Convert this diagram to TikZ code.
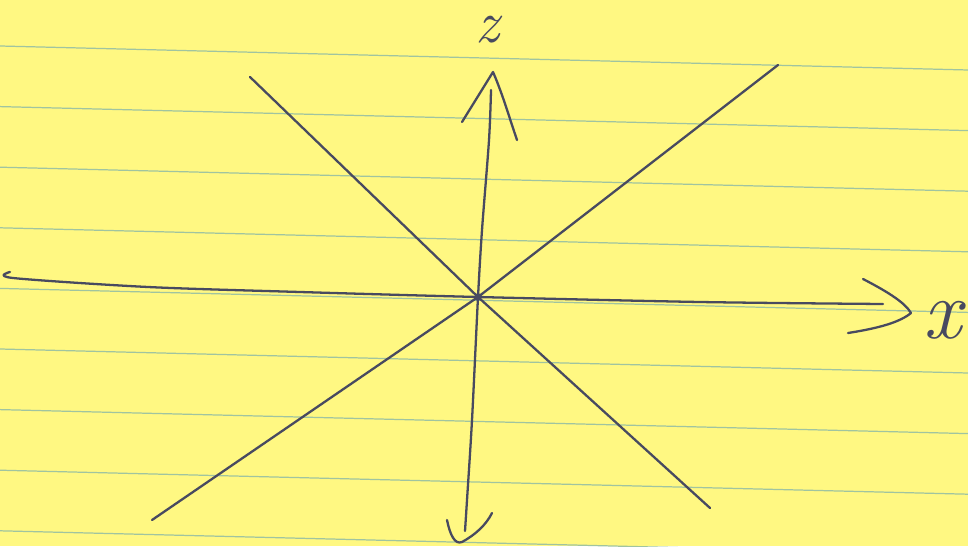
\documentclass[tikz,border=0pt]{standalone}
\usepackage{tikz}
\usetikzlibrary{calc}
\definecolor{padyellow}{RGB}{255,248,130}
\definecolor{ruleblue}{RGB}{160,196,160}
\definecolor{pencil}{RGB}{72,74,96}
\tikzset{
  pen/.style={draw=pencil, line width=0.65pt, line cap=round, line join=round},
  ruleline/.style={draw=ruleblue, line width=0.35pt},
  axislabel/.style={text=pencil, inner sep=0pt, font=\itshape\fontsize{24}{26}\selectfont}
}

\begin{document}
\begin{tikzpicture}[x=0.01cm, y=-0.01cm]
\useasboundingbox (0,0) rectangle (968,546);
\fill[padyellow] (0,0) rectangle (968,546);
% ruled lines of the pad
\begin{scope}
\clip (0,0) rectangle (968,546);
\foreach \k in {0,...,8}
  \draw[ruleline] (0,{46+60.6*\k}) -- (968,{70+60.6*\k});
\end{scope}

\coordinate (O) at (478,297);
\coordinate (zTop) at (491,90);
\coordinate (zBot) at (465,531);
\coordinate (xLeft) at (10,272);
\coordinate (xRight) at (883,304);
\coordinate (dA) at (250,77);
\coordinate (dB) at (710,508);
\coordinate (dC) at (778,65);
\coordinate (dD) at (152,520);

% diagonals
\draw[pen] (dA) -- (O) -- (dB);
\draw[pen] (dC) -- (O) -- (dD);

% x axis
\draw[pen] plot[smooth] coordinates {(xLeft) (13,278) (148,287) (300,292) (O) (700,302) (xRight)};
\draw[pen] (863,279) .. controls (890,293) and (905,303) .. (911,313)
  .. controls (900,322) and (880,328) .. (848,333);
\node[axislabel] (xlab) at (942,320) {x};

% z axis
\draw[pen] plot[smooth] coordinates {(zTop) (489,140) (482,230) (O) (472,420) (467,500) (zBot)};
\draw[pen] (462,122) -- (493,72) .. controls (503,95) and (510,120) .. (517,140);
\draw[pen] (447,520) .. controls (450,535) and (455,545) .. (462,542)
  .. controls (475,535) and (486,525) .. (492,513);
\node[axislabel, font=\itshape\fontsize{17}{19}\selectfont] (zlab) at (487,30) {z};

\fill[pencil] (O) circle[radius=1.1pt];
\end{tikzpicture}
\end{document}
